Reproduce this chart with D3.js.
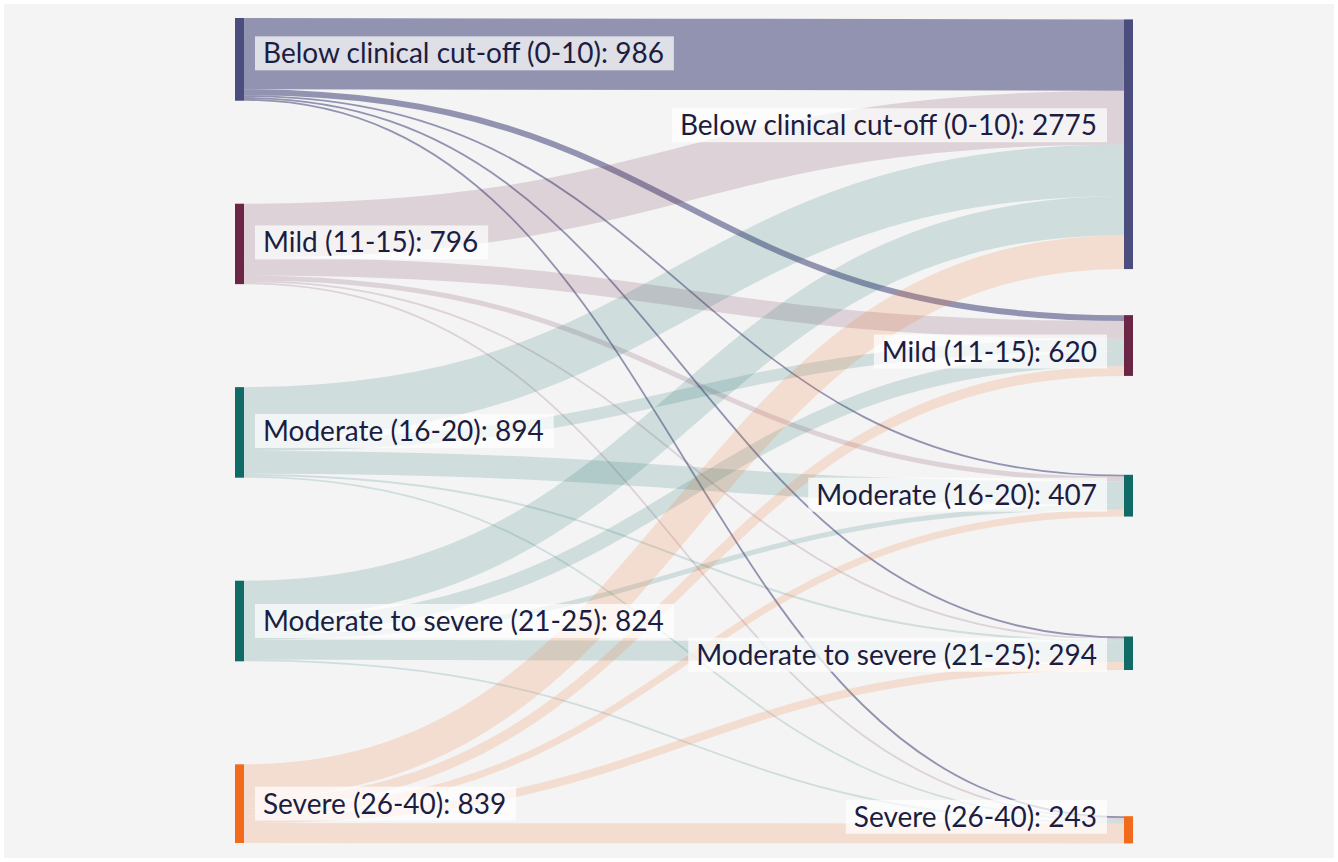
<!DOCTYPE html>
<html>
<head>
<meta charset="utf-8">
<script src="https://cdn.jsdelivr.net/npm/d3@7"></script>
<style>
  body { margin: 0; background: #fff; }
  svg text { font-family: Lato, "Open Sans", sans-serif; }
</style>
</head>
<body>
<div id="container"></div>
<script>
const categories = [
  "Below clinical cut-off (0-10)",
  "Mild (11-15)",
  "Moderate (16-20)",
  "Moderate to severe (21-25)",
  "Severe (26-40)",
];
const beforeTotals = [986, 796, 894, 824, 839];
const afterTotals = [2775, 620, 407, 294, 243];

// flows out of each "before" group, in the order of the "after" groups
const fromBelow = [780, 65, 20, 20, 20];
const fromMild = [589, 196, 55, 20, 20];
const fromModerate = [567, 131, 251, 22, 20];
const fromModSevere = [425, 164, 55, 218, 20];
const fromSevere = [371, 109, 76, 87, 218];
const flows = [fromBelow, fromMild, fromModerate, fromModSevere, fromSevere];

const nodeColors = ["#4b4d7f", "#6b2545", "#106b67", "#106b67", "#f26b1d"];
const linkOpacity = [0.58, 0.16, 0.16, 0.16, 0.16];

const w = 1338;
const h = 862;
const plotTop = 18;
const plotBottom = 843;
const nodeWidth = 9;
const nodePadding = 103;
// vertical centre of each right-hand node, as a share of the plot height
const rightCentres = [0.153, 0.397, 0.579, 0.77, 0.984];
// small vertical nudges of the labels, in pixels
const leftLabelShift = [-6, -1.5, -1.5, 0, 0];
const rightLabelShift = [-19, 6, -1, 1.5, -13];

const n = categories.length;
const total = d3.sum(flows.flat());

const xScale = d3.scaleLinear().domain([0, 1]).range([235, 1124]);
const yScale = d3.scaleLinear().domain([0, 1]).range([plotTop, plotBottom]);
const ky = d3
  .scaleLinear()
  .domain([0, total])
  .range([0, plotBottom - plotTop - nodePadding * (n - 1)]);

const svg = d3
  .select("#container")
  .append("svg")
  .attr("width", w)
  .attr("height", h)
  .attr("viewBox", `0 0 ${w} ${h}`);

svg
  .append("rect")
  .attr("x", 4)
  .attr("y", 4)
  .attr("width", w - 8)
  .attr("height", h - 8)
  .attr("fill", "#f4f4f4");

// left column: stacked top to bottom, spread over the full height
let y = plotTop;
const leftNodes = categories.map((c, i) => {
  const size = ky(d3.sum(flows[i]));
  const node = {
    i,
    name: c,
    total: beforeTotals[i],
    shift: leftLabelShift[i],
    x0: xScale(0),
    y0: y,
    y1: y + size,
  };
  y += size + nodePadding;
  return node;
});

// right column: placed at their centres
const rightNodes = categories.map((c, j) => {
  const size = ky(d3.sum(flows, (row) => row[j]));
  const cy = yScale(rightCentres[j]);
  return {
    i: j,
    name: c,
    total: afterTotals[j],
    shift: rightLabelShift[j],
    x0: xScale(1),
    y0: cy - size / 2,
    y1: cy + size / 2,
  };
});

const links = [];
const targetOffset = rightNodes.map((d) => d.y0);
leftNodes.forEach((src, i) => {
  let sy = src.y0;
  flows[i].forEach((v, j) => {
    const width = ky(v);
    links.push({
      source: i,
      target: j,
      width,
      y0: sy + width / 2,
      y1: targetOffset[j] + width / 2,
    });
    sy += width;
    targetOffset[j] += width;
  });
});

const linkPath = d3
  .linkHorizontal()
  .source((d) => [xScale(0) + nodeWidth, d.y0])
  .target((d) => [xScale(1), d.y1]);

svg
  .append("g")
  .attr("fill", "none")
  .selectAll("path")
  .data(links)
  .enter()
  .append("path")
  .attr("d", linkPath)
  .attr("stroke", (d) => nodeColors[d.source])
  .attr("stroke-opacity", (d) => linkOpacity[d.source])
  .attr("stroke-width", (d) => d.width);

const allNodes = leftNodes.concat(rightNodes);

svg
  .append("g")
  .selectAll("rect")
  .data(allNodes)
  .enter()
  .append("rect")
  .attr("x", (d) => d.x0)
  .attr("y", (d) => d.y0)
  .attr("width", nodeWidth)
  .attr("height", (d) => d.y1 - d.y0)
  .attr("fill", (d) => nodeColors[d.i]);

function addLabels(nodes, side) {
  const g = svg
    .append("g")
    .selectAll("g")
    .data(nodes)
    .enter()
    .append("g");

  const rects = g.append("rect").attr("fill", "#fff").attr("fill-opacity", 0.7);

  const texts = g
    .append("text")
    .attr("font-size", 28)
    .attr("fill", "#1c1d42")
    .text((d) => `${d.name}: ${d.total}`);

  texts.each(function (d) {
    const tw = this.getComputedTextLength();
    const cy = (d.y0 + d.y1) / 2 + d.shift;
    const boxW = tw + 18;
    const bx = side === "left" ? d.x0 + nodeWidth + 11 : d.x0 - 17 - boxW;
    d.box = { x: bx, y: cy - 17, w: boxW, h: 34 };
    d3.select(this)
      .attr("x", bx + 8)
      .attr("y", cy + 10);
  });

  rects
    .attr("x", (d) => d.box.x)
    .attr("y", (d) => d.box.y)
    .attr("width", (d) => d.box.w)
    .attr("height", (d) => d.box.h);
}

addLabels(leftNodes, "left");
addLabels(rightNodes, "right");
</script>
</body>
</html>
